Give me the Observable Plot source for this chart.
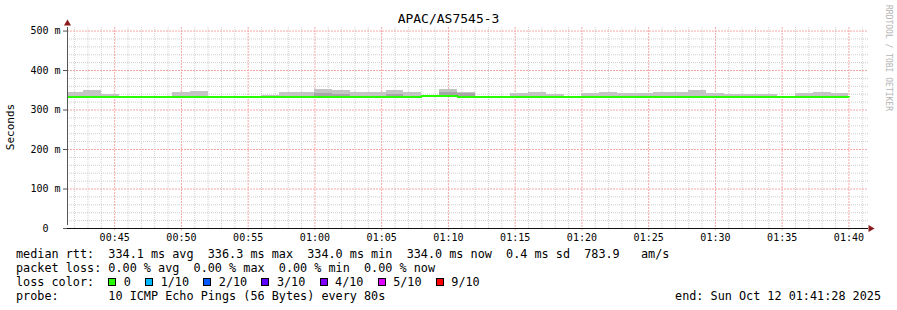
<!DOCTYPE html>
<html><head><meta charset="utf-8">
<script src="https://cdn.jsdelivr.net/npm/d3@7"></script>
<script src="https://cdn.jsdelivr.net/npm/@observablehq/plot@0.6"></script>
<style>
html,body{margin:0;padding:0;background:#fff;}
#wrap{position:relative;width:897px;height:310px;overflow:hidden;font-family:"DejaVu Sans Mono",monospace;color:#000;background:#fff;}
#wrap svg{position:absolute;left:0;top:0;}
.t{position:absolute;white-space:pre;font-size:11.8px;line-height:14px;}
.sw{display:inline-block;width:8px;height:8px;box-sizing:border-box;border:1px solid #000;margin-right:7.5px;vertical-align:baseline;}
</style></head><body><div id="wrap"></div>
<script>
// ---- data ----
const title = "APAC/AS7545-3";
const day = "2025-10-12";
const domainStart = "00:41:28";
const domainEnd = "01:41:28";
const firstStep = "00:41:20";
const stepSeconds = 80;
const medianMs = [334.0,334.0,334.0,334.0,334.0,334.0,334.0,334.0,334.0,334.0,334.0,334.0,334.0,334.0,334.0,334.0,334.0,334.0,334.0,334.0,334.9,336.3,334.0,334.0,334.0,334.0,334.0,334.0,334.0,334.0,334.0,334.0,334.0,334.0,334.0,334.0,334.0,334.0,334.0,334.0,334.0,334.0,334.0,334.0];
const smokeHighMs = [344.4,348.5,340.0,335.0,335.0,335.0,343.4,346.0,335.0,335.0,335.0,338.0,343.4,343.4,351.0,348.5,343.4,343.4,348.5,343.4,335.0,352.8,345.0,335.0,335.0,342.6,345.0,340.0,335.0,342.0,345.0,341.4,342.6,343.4,343.4,348.5,342.6,340.0,340.0,340.0,335.0,342.6,345.0,342.0];
const smokeMidMs = [334.0,334.0,334.0,334.0,334.0,334.0,334.0,334.0,334.0,334.0,334.0,334.0,334.0,334.0,343.0,340.0,334.0,334.0,340.0,334.0,334.0,345.0,341.0,334.0,334.0,334.0,334.0,334.0,334.0,334.0,334.0,334.0,334.0,334.0,334.0,334.0,334.0,334.0,334.0,334.0,334.0,334.0,334.0,334.0];
const xTickLabels = ["00:45","00:50","00:55","01:00","01:05","01:10","01:15","01:20","01:25","01:30","01:35","01:40"];
const yTicks = [0,100,200,300,400,500];
const yMax = 509;
const yLabel = "Seconds";
const statsLine1 = "median rtt:  334.1 ms avg  336.3 ms max  334.0 ms min  334.0 ms now  0.4 ms sd  783.9   am/s";
const statsLine2 = "packet loss: 0.00 % avg  0.00 % max  0.00 % min  0.00 % now";
const lossTitle = "loss color:  ";
const lossLabels = ["0","1/10","2/10","3/10","4/10","5/10","9/10"];
const lossColors = ["#26ff00","#00b8ff","#0059ff","#5e00ff","#7e00ff","#dd00ff","#ff0000"];
const probeLine = "probe:       10 ICMP Echo Pings (56 Bytes) every 80s";
const endLine = "end: Sun Oct 12 01:41:28 2025";
const credit = "RRDTOOL / TOBI OETIKER";

// ---- build ----
const parse = s => new Date(`${day}T${s}Z`);
const x0 = parse(domainStart), x1 = parse(domainEnd);
const s0 = +parse(firstStep);
const steps = medianMs.map((m, i) => ({
  t0: new Date(s0 + i * stepSeconds * 1000),
  t1: new Date(s0 + (i + 1) * stepSeconds * 1000),
  med: m, hi: smokeHighMs[i], mid: smokeMidMs[i]
}));
const lineData = steps.map(d => ({t: d.t0, v: d.med}));
lineData.push({t: steps[steps.length - 1].t1, v: steps[steps.length - 1].med});

const majorX = xTickLabels.map(parse);
const minorX = d3.utcMinute.range(x0, x1).filter(d => d.getUTCMinutes() % 5 !== 0);
const majorY = yTicks.filter(d => d > 0);
const minorY = d3.range(20, yMax, 20).filter(d => d % 100 !== 0);

const chart = Plot.plot({
  width: 897, height: 250,
  marginLeft: 67, marginRight: 29, marginTop: 27, marginBottom: 22,
  x: {type: "utc", domain: [x0, x1]},
  y: {domain: [0, yMax]},
  style: {fontFamily: "DejaVu Sans Mono", fontSize: "10px", background: "transparent", overflow: "visible", color: "#000"},
  marks: [
    Plot.ruleX(minorX, {stroke: "#cfcfcf", strokeDasharray: "1,1"}),
    Plot.ruleY(minorY, {stroke: "#cfcfcf", strokeDasharray: "1,1"}),
    Plot.ruleX(majorX, {stroke: "#f5a8a8", strokeDasharray: "2,1"}),
    Plot.ruleY(majorY, {stroke: "#f5a8a8", strokeDasharray: "2,1"}),
    Plot.rect(steps, {x1: "t0", x2: "t1", y1: "med", y2: "hi", fill: "#c4c4c4", clip: true, shapeRendering: "crispEdges"}),
    Plot.rect(steps, {x1: "t0", x2: "t1", y1: "med", y2: "mid", fill: "#a6a6a6", clip: true, shapeRendering: "crispEdges"}),
    Plot.line(lineData, {x: "t", y: "v", curve: "step-after", stroke: "#26ff00", strokeWidth: 2, clip: true, shapeRendering: "crispEdges"}),
    Plot.axisY({ticks: yTicks, tickFormat: d => d === 0 ? "0\u00a0\u00a0" : `${d} m`, tickSize: 4, tickPadding: 3, label: null, stroke: "#555", fill: "#000"}),
    Plot.axisX({ticks: majorX, tickFormat: d3.utcFormat("%H:%M"), tickSize: 2, tickPadding: 3, label: null, stroke: "#f0a0a0", fill: "#000"}),
    Plot.ruleX([x0], {y1: 0, y2: yMax, stroke: "#555", insetTop: -3}),
    Plot.ruleY([0], {stroke: "#111"}),
    Plot.dot([{t: x0, v: yMax}], {x: "t", y: "v", symbol: "triangle", r: 2.6, fill: "#8b1a1a", stroke: null, dy: -4}),
    Plot.dot([{t: x1, v: 0}], {x: "t", y: "v", symbol: "triangle", r: 2.6, rotate: 90, fill: "#8b1a1a", stroke: null, dx: 2})
  ]
});

const wrap = document.getElementById("wrap");
wrap.appendChild(chart);

function addDiv(text, css, cls) {
  const d = document.createElement("div");
  if (cls) d.className = cls;
  d.textContent = text;
  Object.assign(d.style, {position: "absolute"}, css);
  wrap.appendChild(d);
  return d;
}
addDiv(title, {left: "0px", top: "12px", width: "897px", textAlign: "center", fontSize: "13px", lineHeight: "14px"});
addDiv(yLabel, {left: "-39px", top: "121px", width: "100px", textAlign: "center", fontSize: "11px", lineHeight: "12px", transform: "rotate(-90deg)"});
addDiv(credit, {left: "884px", top: "5px", fontSize: "8px", lineHeight: "8px", writingMode: "vertical-rl", color: "#b4b4b4", whiteSpace: "pre"});
addDiv(statsLine1, {left: "16px", top: "247px"}, "t");
addDiv(statsLine2, {left: "16px", top: "261px"}, "t");
const lossDiv = addDiv(lossTitle, {left: "16px", top: "275px"}, "t");
lossLabels.forEach((lab, i) => {
  const sw = document.createElement("span");
  sw.className = "sw";
  sw.style.background = lossColors[i];
  lossDiv.appendChild(sw);
  lossDiv.appendChild(document.createTextNode(lab + (i < lossLabels.length - 1 ? "  " : "")));
});
addDiv(probeLine, {left: "16px", top: "289px"}, "t");
addDiv(endLine, {right: "16px", top: "289px"}, "t");
</script></body></html>
